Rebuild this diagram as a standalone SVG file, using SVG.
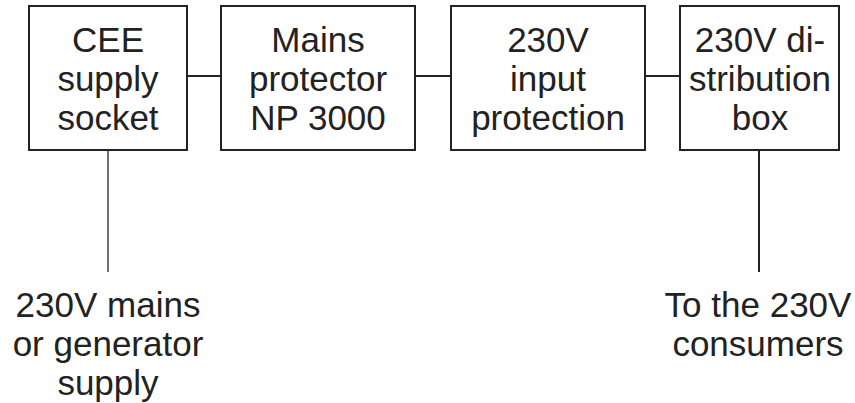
<svg xmlns="http://www.w3.org/2000/svg" width="855" height="403" viewBox="0 0 855 403">
<style>
.box{fill:#fff;stroke:#222;stroke-width:2}
.wire{stroke:#222;stroke-width:2;fill:none}
.lead{stroke:#222;stroke-width:1.3;fill:none}
text{font-family:"Liberation Sans",Arial,sans-serif;font-size:35px;fill:#222;text-anchor:middle}
</style>
<rect width="855" height="403" fill="#fff"/>
<g id="connectors">
<line class="wire" x1="187" y1="76" x2="221" y2="76"/>
<line class="wire" x1="415" y1="76" x2="451" y2="76"/>
<line class="wire" x1="645" y1="76" x2="680" y2="76"/>
<line class="lead" x1="108" y1="150" x2="108" y2="272"/>
<line class="wire" x1="759" y1="150" x2="759" y2="272"/>
</g>
<g id="cee">
<rect class="box" x="29" y="6" width="158" height="144"/>
<text x="108" y="52">CEE</text>
<text x="108" y="91">supply</text>
<text x="108" y="130">socket</text>
</g>
<g id="np3000">
<rect class="box" x="221" y="6" width="194" height="144"/>
<text x="318" y="52">Mains</text>
<text x="318" y="91">protector</text>
<text x="318" y="130">NP 3000</text>
</g>
<g id="input">
<rect class="box" x="451" y="6" width="194" height="144"/>
<text x="548" y="52">230V</text>
<text x="548" y="91">input</text>
<text x="548" y="130">protection</text>
</g>
<g id="dist">
<rect class="box" x="680" y="6" width="159" height="144"/>
<text x="760" y="52">230V di-</text>
<text x="760" y="91">stribution</text>
<text x="760" y="130">box</text>
</g>
<g id="source">
<text x="108" y="317">230V mains</text>
<text x="108" y="356">or generator</text>
<text x="108" y="395">supply</text>
</g>
<g id="consumers">
<text x="758" y="317">To the 230V</text>
<text x="758" y="356">consumers</text>
</g>
</svg>
